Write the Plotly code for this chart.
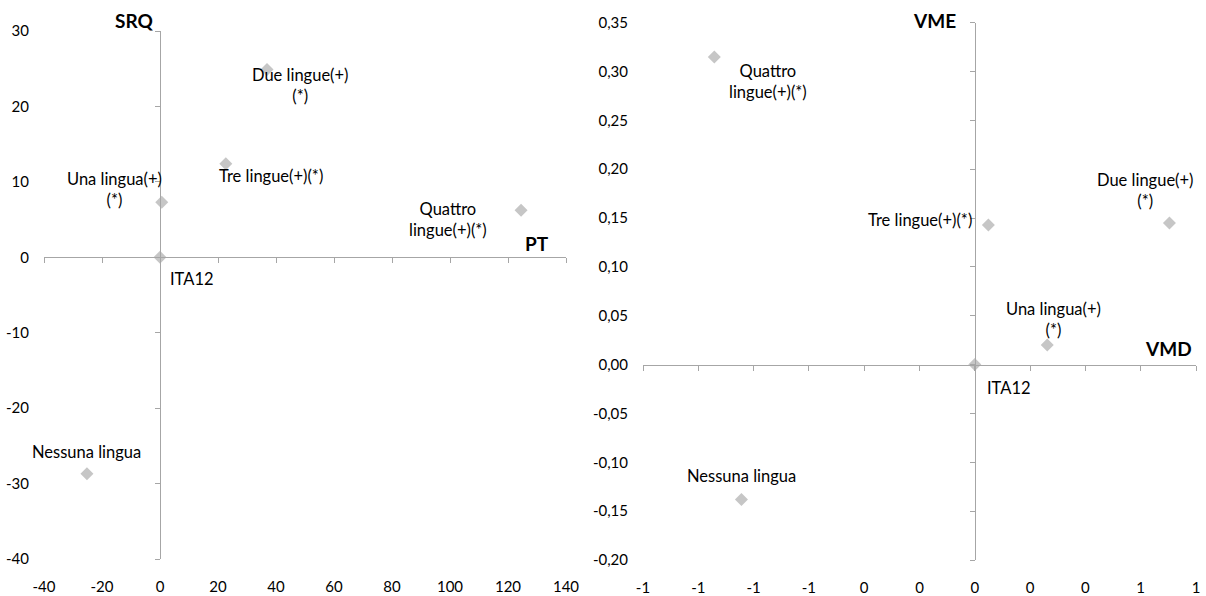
import plotly.graph_objects as go

# ---------------- data ----------------
left_names = ["ITA12", "Nessuna lingua", "Una lingua(+)<br>(*)", "Due lingue(+)<br>(*)",
              "Tre lingue(+)(*)", "Quattro<br>lingue(+)(*)"]
left_pt = [0, -25.2, 0.6, 36.9, 22.7, 124.5]
left_srq = [0, -28.7, 7.3, 24.9, 12.4, 6.25]

right_names = ["ITA12", "Nessuna lingua", "Una lingua(+)<br>(*)", "Due lingue(+)<br>(*)",
               "Tre lingue(+)(*)", "Quattro<br>lingue(+)(*)"]
right_vmd = [0, -0.844, 0.262, 0.704, 0.049, -0.942]
right_vme = [0, -0.138, 0.020, 0.145, 0.1428, 0.315]

left_xticks = [-40, -20, 0, 20, 40, 60, 80, 100, 120, 140]
left_xticktext = ["-40", "-20", "0", "20", "40", "60", "80", "100", "120", "140"]
left_yticks = [-40, -30, -20, -10, 0, 10, 20, 30]
left_yticktext = ["-40", "-30", "-20", "-10", "0", "10", "20", "30"]
right_xticks = [-1.2, -1.0, -0.8, -0.6, -0.4, -0.2, 0.0, 0.2, 0.4, 0.6, 0.8]
right_xticktext = ["-1", "-1", "-1", "-1", "0", "0", "0", "0", "0", "1", "1"]
right_yticks = [-0.20, -0.15, -0.10, -0.05, 0.00, 0.05, 0.10, 0.15, 0.20, 0.25, 0.30, 0.35]
right_yticktext = ["-0,20", "-0,15", "-0,10", "-0,05", "0,00", "0,05", "0,10", "0,15",
                   "0,20", "0,25", "0,30", "0,35"]

# ---------------- styling / layout ----------------
W, H = 1206, 596
FONT = "Lato"
MARKER = "#c6c6c6"
AXIS = "#a6a6a6"

# label offsets (pixels: dx right, dy down)
left_off = [(32, 22), (0, -22), (-47, -13), (33, 16), (45, 12), (-73, 9)]
right_off = [(34, 23), (0, -23), (6, -26), (-24, -32), (-68, -5), (54, 25)]

Lx = [44 / W, 566 / W]
Ly = [(H - 559) / H, (H - 31) / H]
Rx = [643 / W, 1196 / W]
Ry = [(H - 560) / H, (H - 22.7) / H]

lxr = [left_xticks[0], left_xticks[-1]]
lyr = [left_yticks[0], left_yticks[-1]]
rxr = [right_xticks[0], right_xticks[-1]]
ryr = [right_yticks[0], right_yticks[-1]]


def frac(v, r, dom):
    return dom[0] + (v - r[0]) / (r[1] - r[0]) * (dom[1] - dom[0])


fig = go.Figure()

marker = dict(symbol="diamond", size=10, color=MARKER, line=dict(width=0))
# data traces on the zero-crossing axes
fig.add_trace(go.Scatter(x=left_pt, y=left_srq, mode="markers", marker=marker,
                         xaxis="x3", yaxis="y3", showlegend=False, hoverinfo="skip"))
fig.add_trace(go.Scatter(x=right_vmd, y=right_vme, mode="markers", marker=marker,
                         xaxis="x4", yaxis="y4", showlegend=False, hoverinfo="skip"))
# dummy traces for the label axes
fig.add_trace(go.Scatter(x=[None], y=[None], xaxis="x", yaxis="y", showlegend=False))
fig.add_trace(go.Scatter(x=[None], y=[None], xaxis="x2", yaxis="y2", showlegend=False))

tickfont = dict(family=FONT, size=15, color="#000000")
label_ax = dict(showline=False, showgrid=False, zeroline=False, ticks="",
                tickfont=tickfont, automargin=False)
line_ax = dict(showline=True, linecolor=AXIS, linewidth=1.3, showgrid=False,
               zeroline=False, ticks="outside", ticklen=5, tickcolor=AXIS,
               tickwidth=1.3, showticklabels=False, anchor="free", automargin=False)

fig.update_layout(
    width=W, height=H,
    margin=dict(l=0, r=0, t=0, b=0, pad=0, autoexpand=False),
    plot_bgcolor="white", paper_bgcolor="white",
    showlegend=False,
    xaxis=dict(domain=Lx, range=lxr, tickmode="array", tickvals=left_xticks,
               ticktext=left_xticktext, anchor="y", ticklabelstandoff=17, **label_ax),
    yaxis=dict(domain=Ly, range=lyr, tickmode="array", tickvals=left_yticks,
               ticktext=left_yticktext, anchor="x", ticklabelstandoff=14, **label_ax),
    xaxis2=dict(domain=Rx, range=rxr, tickmode="array", tickvals=right_xticks,
                ticktext=right_xticktext, anchor="y2", ticklabelstandoff=17, **label_ax),
    yaxis2=dict(domain=Ry, range=ryr, tickmode="array", tickvals=right_yticks,
                ticktext=right_yticktext, anchor="x2", ticklabelstandoff=14, **label_ax),
    xaxis3=dict(range=lxr, tickmode="array", tickvals=left_xticks, overlaying="x",
                position=frac(0, lyr, Ly), side="bottom", **line_ax),
    yaxis3=dict(range=lyr, tickmode="array", tickvals=left_yticks, overlaying="y",
                position=frac(0, lxr, Lx), side="left", **line_ax),
    xaxis4=dict(range=rxr, tickmode="array", tickvals=right_xticks, overlaying="x2",
                position=frac(0, ryr, Ry), side="bottom", **line_ax),
    yaxis4=dict(range=ryr, tickmode="array", tickvals=right_yticks, overlaying="y2",
                position=frac(0, rxr, Rx), side="left", **line_ax),
)

labfont = dict(family=FONT, size=16.5, color="#000000")
for name, xv, yv, (dx, dy) in zip(left_names, left_pt, left_srq, left_off):
    fig.add_annotation(x=xv, y=yv, xref="x3", yref="y3", text=name, showarrow=False,
                       xanchor="center", yanchor="middle", xshift=dx, yshift=-dy,
                       font=labfont)
for name, xv, yv, (dx, dy) in zip(right_names, right_vmd, right_vme, right_off):
    fig.add_annotation(x=xv, y=yv, xref="x4", yref="y4", text=name, showarrow=False,
                       xanchor="center", yanchor="middle", xshift=dx, yshift=-dy,
                       font=labfont)

titlefont = dict(family=FONT, size=19, color="#000000")
fig.add_annotation(x=0, y=lyr[1], xref="x3", yref="y3", text="<b>SRQ</b>", showarrow=False,
                   xanchor="right", yanchor="middle", xshift=-5, yshift=11, font=titlefont)
fig.add_annotation(x=lxr[1], y=0, xref="x3", yref="y3", text="<b>PT</b>", showarrow=False,
                   xanchor="right", yanchor="middle", xshift=-15, yshift=14, font=titlefont)
fig.add_annotation(x=0, y=ryr[1], xref="x4", yref="y4", text="<b>VME</b>", showarrow=False,
                   xanchor="right", yanchor="middle", xshift=-17, yshift=2, font=titlefont)
fig.add_annotation(x=rxr[1], y=0, xref="x4", yref="y4", text="<b>VMD</b>", showarrow=False,
                   xanchor="right", yanchor="middle", xshift=-2, yshift=16, font=titlefont)

fig.write_html("out.html",
               config={"displayModeBar": False},
               post_script="document.body.style.margin='0px';"
                           "document.body.style.overflow='hidden';")
